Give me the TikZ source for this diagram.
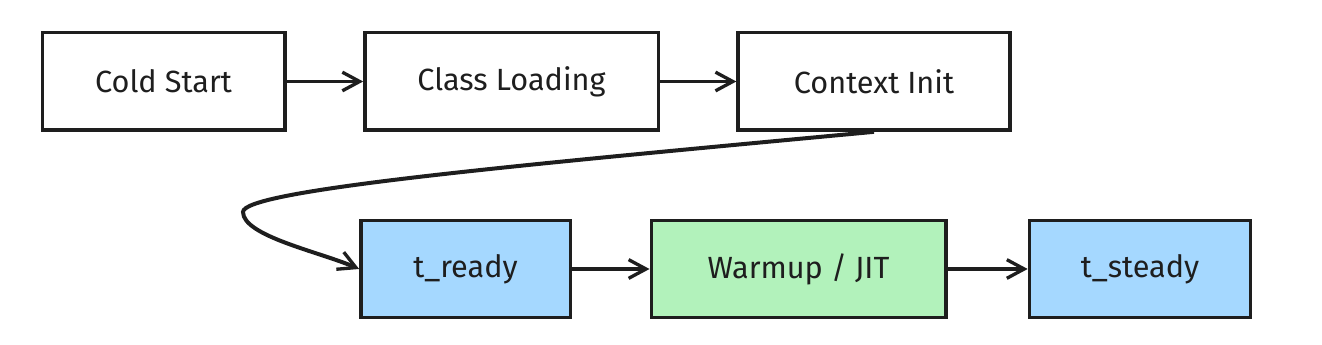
\documentclass[tikz,border=0pt]{standalone}
\usepackage{fontspec}
\setmainfont{Fira Sans}
\usepackage{xcolor}
\usetikzlibrary{arrows.meta}
\definecolor{tinta}{HTML}{1E1E1E}
\definecolor{azul}{HTML}{A5D8FF}
\definecolor{verde}{HTML}{B2F2BB}
\begin{document}
\begin{tikzpicture}[x=0.75pt, y=-0.75pt,
		caja/.style={draw=tinta, line width=2.5pt, minimum height=73pt, inner sep=0pt, font=\fontsize{23}{27}\selectfont, text=tinta},
		flecha/.style={draw=tinta, line width=2.5pt, -{Straight Barb[length=13pt, width=14pt, line width=2.5pt]}}]
	% Marco
	\useasboundingbox (0,0) rectangle (1322,345);

	% Fila superior
	\node[caja, minimum width=182pt] (cold) at (163.5,81.5) {Cold Start};
	\node[caja, minimum width=220pt] (clase) at (511.5,81.5) {Class Loading};
	\node[caja, minimum width=204pt] (ctx) at (874,81.5) {Context Init};

	% Fila inferior
	\node[caja, fill=azul, minimum width=157pt] (ready) at (465.5,269) {t\_ready};
	\node[caja, fill=verde, minimum width=221pt] (warm) at (798.5,269) {Warmup / JIT};
	\node[caja, fill=azul, minimum width=166pt] (steady) at (1140,269) {t\_steady};

	% Flechas
	\draw[flecha] (cold) -- (clase);
	\draw[flecha] (clase) -- (ctx);
	\draw[flecha, line width=3pt] (ctx.south) .. controls (520,165) and (243,190) .. (243,212)
		.. controls (243,236) and (320,252) .. (ready.west);
	\draw[flecha] (ready) -- (warm);
	\draw[flecha] (warm) -- (steady);
\end{tikzpicture}
\end{document}
